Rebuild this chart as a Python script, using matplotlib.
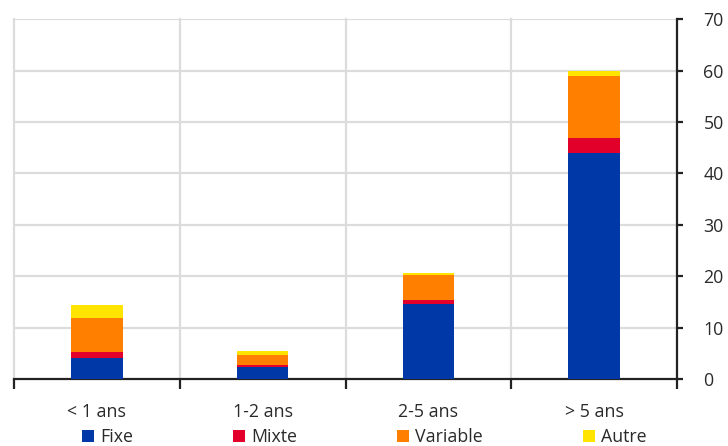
import matplotlib
matplotlib.use("Agg")
import matplotlib.pyplot as plt
import numpy as np

categories = ["< 1 ans", "1-2 ans", "2-5 ans", "> 5 ans"]
fixe = [4.2, 2.3, 14.6, 44.0]
mixte = [1.1, 0.5, 0.7, 2.8]
variable = [6.6, 1.95, 5.0, 12.2]
autre = [2.6, 0.65, 0.4, 1.0]

series_names = ["Fixe", "Mixte", "Variable", "Autre"]
colors = ["#0038A8", "#E2002A", "#FF8000", "#FFE400"]

plt.rcParams["font.family"] = ["Open Sans", "DejaVu Sans"]
TXT = "#2a2a2a"
FS = 12.8

fig = plt.figure(figsize=(7.28, 4.46), dpi=100)
ax = fig.add_axes([0.0192, 0.150, 0.9108, 0.807])

x = np.arange(len(categories))
bottom = np.zeros(len(categories))
for vals, name, col in zip([fixe, mixte, variable, autre], series_names, colors):
    ax.bar(x, vals, width=0.31, bottom=bottom, color=col, label=name, zorder=3)
    bottom += np.array(vals)

ax.set_xlim(-0.5, len(categories) - 0.5)
ax.set_ylim(0, 70)
ax.set_yticks(np.arange(0, 71, 10))

# horizontal grid at every 10, vertical grid at category boundaries
for yv in np.arange(10, 71, 10):
    ax.axhline(yv, color="#dcdcdc", lw=1.6, zorder=1)
for xv in np.arange(-0.5, len(categories) - 0.5, 1.0):
    ax.axvline(xv, color="#dcdcdc", lw=1.6, zorder=1, clip_on=False)

ax.yaxis.tick_right()
for s in ["top", "left"]:
    ax.spines[s].set_visible(False)
for s in ["right", "bottom"]:
    ax.spines[s].set_color("#222222")
    ax.spines[s].set_linewidth(1.6)

ax.set_xticks(np.arange(-0.5, len(categories), 1.0))
ax.set_xticklabels([])
ax.set_xticks(x, minor=True)
ax.set_xticklabels(categories, minor=True, fontsize=FS, color=TXT)
ax.tick_params(axis="x", which="major", length=7, width=1.6, color="#222222", direction="out")
ax.tick_params(axis="x", which="minor", length=0, pad=17.5)
ax.tick_params(axis="y", length=4, width=1.6, color="#222222", labelsize=FS,
               labelcolor=TXT, pad=15, direction="out")

handles, labels = ax.get_legend_handles_labels()
fig.legend(handles, labels, ncol=4, loc="lower left",
           bbox_to_anchor=(0.090, -0.036), frameon=False, fontsize=FS,
           handlelength=0.7, handleheight=0.7, handletextpad=0.35,
           columnspacing=5.6, labelcolor=TXT)

fig.savefig("out.png", dpi=100)
